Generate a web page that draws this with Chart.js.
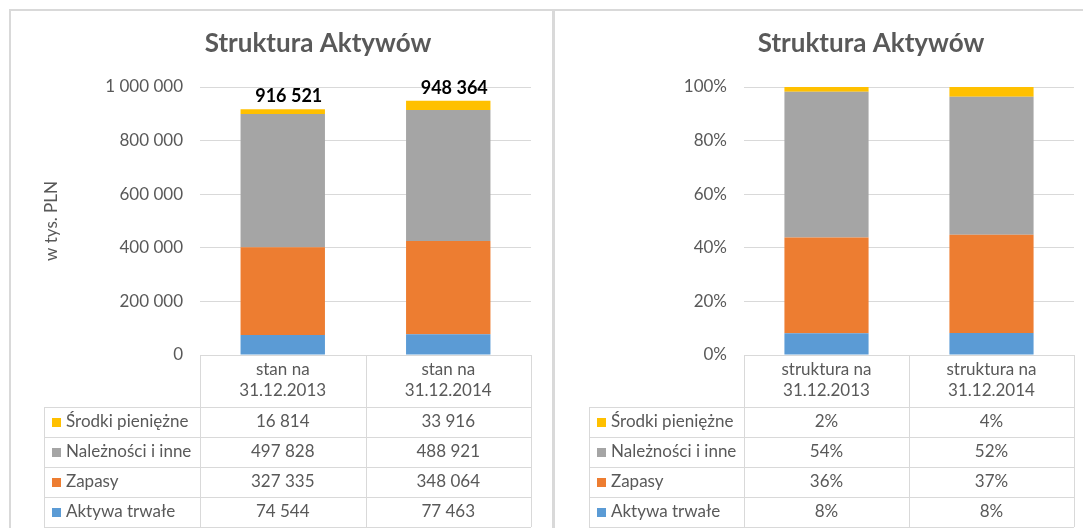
<!DOCTYPE html>
<html>
<head>
<meta charset="utf-8">
<script src="https://cdn.jsdelivr.net/npm/chart.js@4.4.0/dist/chart.umd.min.js"></script>
<style>
body { margin: 0; background: #fff; width: 1083px; height: 528px; overflow: hidden; position: relative; }
.panel { position: absolute; border: 2px solid #d9d9d9; box-sizing: border-box; }
canvas { position: absolute; top: 0; }
</style>
</head>
<body>
<div class="panel" style="left:9px;top:9px;width:545px;height:600px"></div>
<div class="panel" style="left:553px;top:9px;width:600px;height:600px"></div>
<canvas id="leftChart" width="553" height="528" style="left:0"></canvas>
<canvas id="rightChart" width="530" height="528" style="left:553px"></canvas>
<script>
// dane
var leftLabels = [['stan na', '31.12.2013'], ['stan na', '31.12.2014']];
var rightLabels = [['struktura na', '31.12.2013'], ['struktura na', '31.12.2014']];
var seriesNames = ['Aktywa trwałe', 'Zapasy', 'Należności i inne', 'Środki pieniężne'];

var aktywaTrwale = [74544, 77463];
var zapasy = [327335, 348064];
var naleznosci = [497828, 488921];
var srodki = [16814, 33916];

var aktywaTrwalePct = [8.1, 8.2];
var zapasyPct = [35.7, 36.7];
var naleznosciPct = [54.4, 51.5];
var srodkiPct = [1.8, 3.6];

var colors = ['#5b9bd5', '#ed7d31', '#a5a5a5', '#ffc000'];
var textColor = '#595959';
var gridColor = '#d9d9d9';
var fontName = 'Lato';

function fmt(v) {
    return String(v).replace(/\B(?=(\d{3})+(?!\d))/g, ' ');
}
function fmtPct(v) {
    return Math.round(v) + '%';
}

var headingPlugin = {
    id: 'heading',
    afterDraw: function (chart, args, o) {
        var ctx = chart.ctx;
        ctx.save();
        ctx.font = 'bold 26px ' + fontName;
        ctx.fillStyle = textColor;
        ctx.textAlign = 'center';
        ctx.textBaseline = 'alphabetic';
        ctx.fillText(o.text, o.x, o.y);
        ctx.restore();
    }
};

var totalsPlugin = {
    id: 'totals',
    afterDatasetsDraw: function (chart, args, o) {
        if (!o.show) return;
        var ctx = chart.ctx;
        var sets = chart.data.datasets;
        var meta = chart.getDatasetMeta(sets.length - 1);
        ctx.save();
        ctx.font = 'bold 18px ' + fontName;
        ctx.fillStyle = '#000';
        ctx.textAlign = 'center';
        ctx.textBaseline = 'alphabetic';
        meta.data.forEach(function (bar, i) {
            var sum = sets.reduce(function (s, d) { return s + d.data[i]; }, 0);
            ctx.fillText(fmt(sum), bar.x + 6, bar.y - 7);
        });
        ctx.restore();
    }
};

var tablePlugin = {
    id: 'dataTable',
    afterDraw: function (chart, args, o) {
        var ctx = chart.ctx, a = chart.chartArea, xs = chart.scales.x;
        var labels = chart.data.labels, sets = chart.data.datasets;
        var n = labels.length;
        var colW = (a.right - a.left) / n;
        var headBottom = a.bottom + o.headerHeight;
        var bottom = headBottom + sets.length * o.rowHeight;
        ctx.save();
        ctx.strokeStyle = gridColor;
        ctx.lineWidth = 1;
        ctx.beginPath();
        for (var i = 0; i <= n; i++) {
            var x = Math.round(a.left + i * colW) + 0.5;
            ctx.moveTo(x, a.bottom);
            ctx.lineTo(x, bottom);
        }
        ctx.moveTo(o.left + 0.5, headBottom);
        ctx.lineTo(o.left + 0.5, bottom);
        for (var r = 0; r <= sets.length; r++) {
            var y = Math.round(headBottom + r * o.rowHeight) + 0.5;
            ctx.moveTo(o.left, y);
            ctx.lineTo(a.right, y);
        }
        ctx.stroke();

        ctx.font = '17px ' + fontName;
        ctx.fillStyle = textColor;
        ctx.textAlign = 'center';
        ctx.textBaseline = 'middle';
        labels.forEach(function (lab, i) {
            var cx = xs.getPixelForValue(i);
            ctx.fillText(lab[0], cx, a.bottom + 15);
            ctx.fillText(lab[1], cx, a.bottom + 36);
        });
        for (var r2 = 0; r2 < sets.length; r2++) {
            var d = sets[sets.length - 1 - r2];
            var cy = headBottom + r2 * o.rowHeight + o.rowHeight / 2;
            ctx.fillStyle = d.backgroundColor;
            ctx.fillRect(o.left + 8, Math.round(cy - 4), 9, 9);
            ctx.fillStyle = textColor;
            ctx.textAlign = 'left';
            ctx.fillText(d.label, o.left + 22, cy);
            ctx.textAlign = 'center';
            d.data.forEach(function (v, i) {
                ctx.fillText(o.format(v), xs.getPixelForValue(i), cy);
            });
        }
        ctx.restore();
    }
};

function makeChart(id, labels, seriesData, cfg) {
    var datasets = seriesData.map(function (arr, i) {
        return {
            label: seriesNames[i],
            data: arr,
            backgroundColor: colors[i],
            borderWidth: 0,
            categoryPercentage: 1,
            barPercentage: 0.51
        };
    });
    return new Chart(document.getElementById(id), {
        type: 'bar',
        data: { labels: labels, datasets: datasets },
        plugins: [headingPlugin, totalsPlugin, tablePlugin],
        options: {
            responsive: false,
            animation: false,
            layout: { padding: { left: 0, top: 87, right: cfg.padRight, bottom: 173 } },
            scales: {
                x: { stacked: true, display: false },
                y: {
                    stacked: true,
                    min: 0,
                    max: cfg.max,
                    afterFit: function (scale) { scale.width = cfg.axisWidth; },
                    border: { display: false },
                    grid: { color: gridColor, drawTicks: false },
                    ticks: {
                        stepSize: cfg.step,
                        padding: 17,
                        color: textColor,
                        font: { family: fontName, size: 17 },
                        callback: cfg.tick
                    },
                    title: {
                        display: !!cfg.axisTitle,
                        text: cfg.axisTitle || '',
                        color: textColor,
                        font: { family: fontName, size: 17 },
                        padding: { top: 41, bottom: 0 }
                    }
                }
            },
            plugins: {
                legend: { display: false },
                tooltip: { enabled: false },
                heading: { text: 'Struktura Aktywów', x: 318, y: 52 },
                totals: { show: cfg.totals },
                dataTable: { left: cfg.tableLeft, headerHeight: 52, rowHeight: 30, format: cfg.cell }
            }
        }
    });
}

makeChart('leftChart', leftLabels, [aktywaTrwale, zapasy, naleznosci, srodki], {
    padRight: 22, axisWidth: 200, max: 1000000, step: 200000,
    tick: function (v) { return fmt(v); },
    axisTitle: 'w tys. PLN', totals: true, tableLeft: 44, cell: fmt
});

makeChart('rightChart', rightLabels, [aktywaTrwalePct, zapasyPct, naleznosciPct, srodkiPct], {
    padRight: 9, axisWidth: 191, max: 100, step: 20,
    tick: function (v) { return v + '%'; },
    axisTitle: null, totals: false, tableLeft: 36, cell: fmtPct
});
</script>
</body>
</html>
